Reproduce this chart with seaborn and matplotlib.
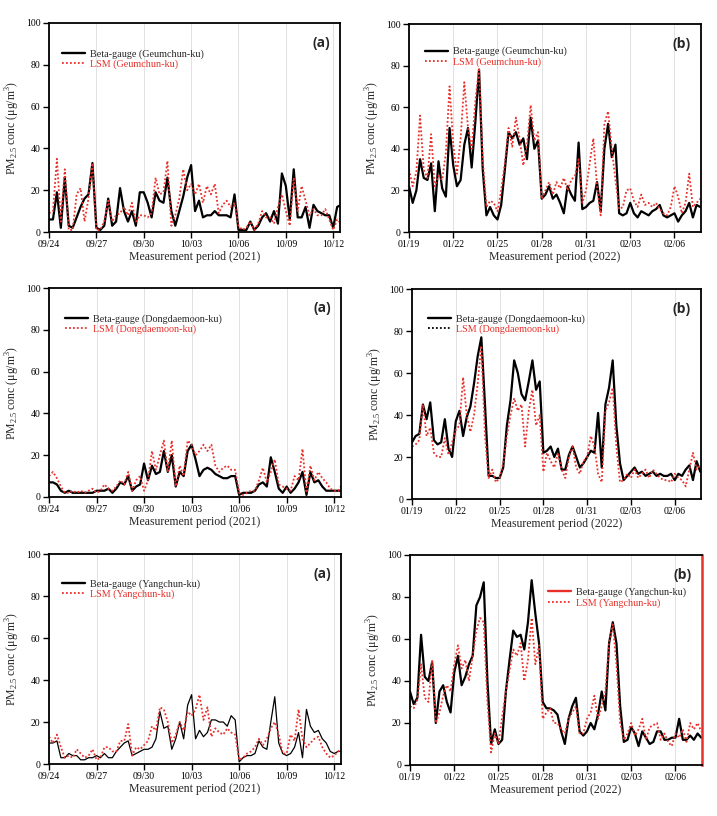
import numpy as np
import pandas as pd
import seaborn as sns
import matplotlib.pyplot as plt
from matplotlib.lines import Line2D

# 6-hourly readings (4 per day)
STEP = 0.25

ticks_2021 = ['09/24', '09/27', '09/30', '10/03', '10/06', '10/09', '10/12']
ticks_2022 = ['01/19', '01/22', '01/25', '01/28', '01/31', '02/03', '02/06']

geum_2021_beta = [6, 6, 19, 2, 26, 3, 2, 7, 12, 16, 18, 33, 2, 1, 3, 16, 3, 5, 21, 10,
                  5, 10, 3, 19, 19, 14, 7, 19, 15, 14, 26, 10, 3, 10, 17, 26, 32, 10, 15, 7,
                  8, 8, 10, 8, 8, 8, 7, 18, 1, 1, 1, 5, 1, 3, 7, 9, 5, 10, 4, 28,
                  22, 6, 30, 7, 7, 12, 2, 13, 10, 9, 8, 8, 2, 12, 13]
geum_2021_lsm = [9, 10, 35, 5, 30, 1, 1, 18, 21, 5, 16, 33, 1, 1, 5, 15, 5, 8, 9, 12,
                 8, 14, 5, 8, 8, 7, 9, 26, 18, 19, 34, 3, 8, 16, 30, 20, 23, 18, 23, 14,
                 22, 18, 23, 9, 13, 15, 12, 14, 3, 1, 2, 5, 1, 4, 10, 7, 7, 4, 12, 18,
                 10, 3, 26, 10, 22, 15, 8, 11, 8, 8, 11, 6, 1, 6, 4]

geum_2022_beta = [22, 14, 20, 35, 26, 25, 33, 10, 34, 21, 17, 50, 32, 22, 25, 42, 50, 31, 53, 78,
                  30, 8, 12, 8, 6, 13, 30, 48, 45, 48, 42, 45, 35, 55, 40, 44, 16, 18, 22, 16,
                  18, 14, 9, 22, 18, 15, 43, 11, 12, 14, 15, 24, 10, 40, 52, 36, 42, 9, 8, 9,
                  14, 9, 7, 10, 9, 8, 10, 11, 13, 8, 7, 8, 9, 5, 8, 10, 14, 7, 13, 12]
geum_2022_lsm = [30, 22, 29, 56, 30, 26, 47, 22, 27, 25, 38, 70, 42, 28, 45, 72, 50, 40, 63, 79,
                 35, 12, 15, 14, 10, 20, 33, 50, 41, 55, 45, 32, 42, 61, 44, 48, 16, 20, 24, 18,
                 24, 21, 26, 20, 25, 27, 35, 14, 20, 33, 45, 22, 8, 52, 58, 40, 25, 11, 12, 20,
                 21, 15, 12, 18, 13, 14, 12, 14, 11, 9, 8, 12, 22, 17, 9, 14, 28, 12, 14, 16]

dong_2021_beta = [7, 7, 6, 3, 2, 3, 2, 2, 2, 2, 2, 2, 3, 3, 3, 4, 2, 4, 7, 6,
                  10, 3, 5, 6, 16, 8, 15, 11, 12, 22, 12, 20, 5, 12, 10, 22, 25, 18, 10, 13,
                  14, 13, 11, 10, 9, 9, 10, 10, 1, 2, 2, 2, 3, 6, 7, 5, 19, 12, 4, 2,
                  5, 2, 4, 7, 12, 1, 12, 7, 8, 5, 3, 3, 3, 3, 3]
dong_2021_lsm = [10, 12, 9, 5, 2, 2, 3, 2, 3, 2, 3, 4, 2, 3, 6, 4, 3, 5, 8, 6,
                 12, 3, 8, 10, 3, 8, 22, 13, 20, 27, 12, 27, 5, 15, 10, 27, 25, 20, 22, 25,
                 22, 25, 15, 12, 14, 15, 13, 13, 2, 1, 2, 3, 3, 8, 14, 7, 12, 18, 6, 5,
                 4, 3, 10, 8, 23, 2, 15, 8, 12, 9, 7, 4, 3, 3, 6]

dong_2022_beta = [27, 30, 31, 45, 38, 46, 28, 26, 27, 38, 24, 20, 37, 42, 30, 39, 44, 55, 68, 77,
                  45, 11, 11, 10, 10, 15, 35, 47, 66, 60, 50, 47, 56, 66, 52, 56, 22, 23, 25, 20,
                  24, 14, 14, 21, 25, 20, 15, 17, 20, 23, 22, 41, 15, 45, 53, 66, 35, 17, 9, 11,
                  13, 15, 12, 13, 11, 12, 13, 11, 12, 11, 11, 12, 9, 12, 11, 14, 16, 9, 18, 13]
dong_2022_lsm = [25, 26, 28, 45, 30, 34, 22, 20, 20, 29, 21, 27, 33, 35, 58, 40, 32, 40, 55, 73,
                 30, 10, 14, 8, 10, 17, 30, 40, 48, 42, 45, 25, 42, 52, 35, 40, 13, 22, 18, 15,
                 22, 14, 10, 20, 25, 15, 12, 18, 20, 30, 25, 12, 8, 42, 46, 53, 25, 8, 9, 12,
                 10, 14, 10, 12, 14, 10, 14, 12, 10, 9, 9, 8, 12, 10, 9, 6, 14, 22, 14, 16]

yang_2021_beta = [10, 10, 11, 3, 3, 5, 4, 4, 2, 2, 3, 3, 4, 3, 5, 3, 3, 6, 8, 10,
                  11, 4, 5, 6, 7, 7, 8, 12, 25, 17, 18, 7, 12, 20, 12, 28, 33, 12, 16, 13,
                  15, 21, 21, 20, 20, 18, 23, 21, 1, 3, 4, 4, 5, 11, 8, 7, 20, 32, 10, 5,
                  4, 5, 8, 15, 3, 26, 18, 15, 16, 12, 10, 6, 5, 6, 6]
yang_2021_lsm = [13, 10, 14, 8, 3, 4, 3, 7, 5, 3, 4, 7, 2, 3, 8, 8, 6, 6, 11, 11,
                 19, 4, 8, 7, 9, 11, 18, 16, 27, 26, 20, 10, 14, 20, 16, 25, 23, 26, 33, 21,
                 27, 13, 17, 15, 14, 17, 15, 14, 2, 3, 5, 6, 8, 12, 9, 12, 17, 20, 14, 5,
                 5, 14, 11, 26, 12, 8, 10, 12, 13, 8, 5, 3, 4, 6, 7]

yang_2022_beta = [35, 29, 32, 62, 42, 40, 49, 20, 35, 38, 30, 25, 44, 52, 38, 42, 48, 52, 76, 80,
                  87, 40, 10, 17, 10, 12, 35, 50, 64, 61, 62, 55, 68, 88, 72, 58, 30, 27, 27, 26,
                  24, 16, 10, 22, 28, 32, 16, 14, 16, 20, 17, 24, 35, 26, 58, 68, 58, 28, 11, 12,
                  18, 15, 9, 16, 13, 10, 11, 16, 16, 12, 12, 13, 13, 22, 12, 12, 14, 12, 15, 13]
yang_2022_lsm = [28, 27, 31, 48, 32, 30, 50, 20, 25, 33, 38, 35, 48, 57, 46, 50, 40, 52, 64, 70,
                 68, 30, 6, 15, 10, 23, 35, 45, 55, 52, 58, 40, 50, 70, 48, 57, 22, 25, 27, 20,
                 20, 17, 15, 22, 25, 28, 15, 15, 22, 25, 33, 22, 28, 35, 58, 67, 48, 20, 12, 15,
                 20, 14, 17, 22, 12, 18, 19, 20, 12, 15, 11, 9, 15, 13, 17, 11, 20, 17, 20, 16]

RED = '#e8302a'
DOTS = (0, (1, 1.2))

sns.set_theme(style='white')
plt.rcParams['font.family'] = ['Liberation Serif', 'DejaVu Serif']
plt.rcParams['mathtext.fontset'] = 'custom'
plt.rcParams['mathtext.rm'] = 'Liberation Serif'


def draw_panel(ax, beta, lsm, site, year, ticklabels, letter, xmax,
               beta_lw=1.6, beta_handle=None, lsm_handle=RED,
               loc='upper left', anchor=(0.02, 0.92)):
    df = pd.DataFrame({'t': np.arange(len(beta)) * STEP, 'beta': beta, 'lsm': lsm})
    sns.lineplot(data=df, x='t', y='beta', ax=ax, color='black', linewidth=beta_lw)
    sns.lineplot(data=df, x='t', y='lsm', ax=ax, color=RED, linewidth=1.3, linestyle=DOTS)

    ax.set_xlim(0, xmax)
    ax.set_ylim(0, 100)
    ax.set_xticks(np.arange(len(ticklabels)) * 3)
    ax.set_xticklabels(ticklabels)
    ax.set_yticks(range(0, 101, 20))
    ax.tick_params(axis='both', direction='out', length=4, width=1, labelsize=7,
                   bottom=True, left=True, pad=2, colors='black')
    ax.grid(axis='x', color='#dcdcdc', linewidth=0.6)
    ax.grid(axis='y', visible=False)
    for sp in ax.spines.values():
        sp.set_color('black')
        sp.set_linewidth(1.3)

    ax.set_xlabel('Measurement period (%s)' % year, fontsize=8.5, labelpad=1)
    ax.set_ylabel('PM$_{\\mathregular{2.5}}$ conc (μg/m$^{\\mathregular{3}}$)', fontsize=8.5, labelpad=3)

    handles = [Line2D([], [], color=beta_handle or 'black', linewidth=1.7),
               Line2D([], [], color=lsm_handle, linewidth=1.3, linestyle=DOTS)]
    leg = ax.legend(handles, ['Beta-gauge (%s)' % site, 'LSM (%s)' % site],
                    loc=loc, bbox_to_anchor=anchor, frameon=False, fontsize=7.3,
                    handlelength=2.3, handletextpad=0.5, labelspacing=0.1,
                    borderaxespad=0)
    leg.get_texts()[1].set_color(RED)

    ax.text(0.965, 0.905, letter, transform=ax.transAxes, ha='right', va='center',
            fontsize=10, fontweight='bold', family=['Open Sans', 'DejaVu Sans'])
    return ax


fig = plt.figure(figsize=(7.17, 8.16), dpi=100)
W, H = 717, 816


def place(x0, y0, x1, y1):
    return fig.add_axes([x0 / W, 1 - y1 / H, (x1 - x0) / W, (y1 - y0) / H])


a1 = place(49, 23, 340, 232)
draw_panel(a1, geum_2021_beta, geum_2021_lsm, 'Geumchun-ku', 2021, ticks_2021, '(a)', 18.43,
           anchor=(0.03, 0.895))
a2 = place(409, 24, 701, 232)
draw_panel(a2, geum_2022_beta, geum_2022_lsm, 'Geumchun-ku', 2022, ticks_2022, '(b)', 19.8,
           anchor=(0.04, 0.91))

a3 = place(49, 288, 341, 497)
draw_panel(a3, dong_2021_beta, dong_2021_lsm, 'Dongdaemoon-ku', 2021, ticks_2021, '(a)', 18.43,
           anchor=(0.04, 0.895))
a4 = place(412, 289, 701, 499)
draw_panel(a4, dong_2022_beta, dong_2022_lsm, 'Dongdaemoon-ku', 2022, ticks_2022, '(b)', 19.8,
           lsm_handle='black', anchor=(0.04, 0.9))

a5 = place(49, 554, 341, 764)
draw_panel(a5, yang_2021_beta, yang_2021_lsm, 'Yangchun-ku', 2021, ticks_2021, '(a)', 18.43,
           beta_lw=0.9, anchor=(0.03, 0.9))
a6 = place(410, 555, 702, 765)
draw_panel(a6, yang_2022_beta, yang_2022_lsm, 'Yangchun-ku', 2022, ticks_2022, '(b)', 19.8,
           beta_handle=RED, loc='upper right', anchor=(0.96, 0.865))
a6.spines['right'].set_color(RED)
a6.spines['right'].set_linewidth(1.8)

fig.savefig('out.png', dpi=100)
